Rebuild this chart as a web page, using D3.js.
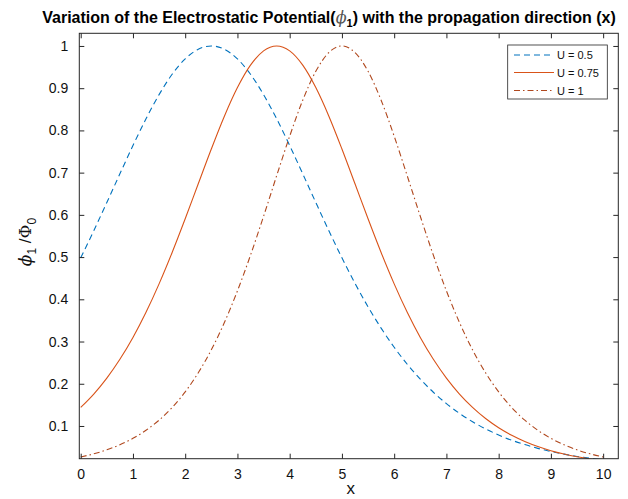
<!DOCTYPE html>
<html><head><meta charset="utf-8">
<script src="https://cdn.jsdelivr.net/npm/d3@7"></script>
<style>
body{margin:0;background:#fff;}
text{font-family:"Liberation Sans",Arial,Helvetica,sans-serif;}
</style></head>
<body><svg id="c" width="628" height="499"></svg>
<script>
const xValues = [0,0.25,0.5,0.75,1,1.25,1.5,1.75,2,2.25,2.5,2.75,3,3.25,3.5,3.75,4,4.25,4.5,4.75,5,5.25,5.5,5.75,6,6.25,6.5,6.75,7,7.25,7.5,7.75,8,8.25,8.5,8.75,9,9.25,9.5,9.75,10];
const seriesU05 = [0.4982,0.5624,0.6293,0.6972,0.7642,0.8276,0.8847,0.9329,0.9694,0.9922,1,0.9922,0.9694,0.9329,0.8847,0.8276,0.7642,0.6972,0.6293,0.5624,0.4982,0.4379,0.3823,0.3318,0.2864,0.2462,0.2108,0.1799,0.1530,0.1299,0.1101,0.0931,0.0786,0.0663,0.0559,0.0470,0.0396,0.0333,0.0279,0.0235,0.0197];
const seriesU075 = [0.1441,0.1757,0.2134,0.2579,0.3097,0.3693,0.4366,0.5109,0.5907,0.6736,0.7560,0.8337,0.9015,0.9546,0.9884,1,0.9884,0.9546,0.9015,0.8337,0.7560,0.6736,0.5907,0.5109,0.4366,0.3693,0.3097,0.2579,0.2134,0.1757,0.1441,0.1177,0.0959,0.0780,0.0633,0.0513,0.0415,0.0336,0.0271,0.0219,0.0177];
const seriesU1 = [0.0266,0.0340,0.0435,0.0555,0.0707,0.0898,0.1138,0.1437,0.1807,0.2259,0.2804,0.3450,0.4200,0.5045,0.5966,0.6924,0.7864,0.8716,0.9400,0.9845,1,0.9845,0.9400,0.8716,0.7864,0.6924,0.5966,0.5045,0.4200,0.3450,0.2804,0.2259,0.1807,0.1437,0.1138,0.0898,0.0707,0.0555,0.0435,0.0340,0.0266];
const seriesNames = ["U = 0.5","U = 0.75","U = 1"];
const xTicks = [0,1,2,3,4,5,6,7,8,9,10];
const yTicks = [0.1,0.2,0.3,0.4,0.5,0.6,0.7,0.8,0.9,1];

const svg = d3.select("#c");
const L=79.3, R=618.3, T=33.3, B=458.7;
const x = d3.scaleLinear().domain([-0.027,10.29]).range([L,R]);
const y = d3.scaleLinear().domain([0.0225,1.030]).range([B,T]);
const axisCol = "#262626";

svg.append("defs").append("clipPath").attr("id","clip")
  .append("rect").attr("x",L).attr("y",T).attr("width",R-L).attr("height",B-T);

const styles = [
  {data:seriesU05, color:"#0072BD", dash:"6,4"},
  {data:seriesU075, color:"#D95319", dash:null},
  {data:seriesU1, color:"#B0481E", dash:"6,3,1.5,3"}
];
const line = d3.line().x(d=>x(d[0])).y(d=>y(d[1])).curve(d3.curveMonotoneX);
const g = svg.append("g").attr("clip-path","url(#clip)");
styles.forEach(s=>{
  g.append("path").datum(xValues.map((v,i)=>[v,s.data[i]]))
   .attr("d",line).attr("fill","none").attr("stroke",s.color)
   .attr("stroke-width",1.1).attr("stroke-dasharray",s.dash);
});

// axes (box with inside ticks)
const tl = 5;
const axB = d3.axisBottom(x).tickValues(xTicks).tickSize(-tl).tickPadding(tl+5).tickFormat(d3.format("d"));
const axT = d3.axisTop(x).tickValues(xTicks).tickSize(-tl).tickFormat("");
const axL = d3.axisLeft(y).tickValues(yTicks).tickSize(-tl).tickPadding(tl+6).tickFormat(d=>d===1?"1":d3.format(".1f")(d));
const axR = d3.axisRight(y).tickValues(yTicks).tickSize(-tl).tickFormat("");
function style(sel){
  sel.select(".domain").remove();
  sel.selectAll("line").attr("stroke",axisCol).attr("stroke-width",1);
  sel.selectAll("text").attr("fill","#111").style("font-size","14px").style("font-family","'Liberation Sans',Arial,sans-serif");
}
svg.append("g").attr("transform",`translate(0,${B})`).call(axB).call(style);
svg.append("g").attr("transform",`translate(0,${T})`).call(axT).call(style);
svg.append("g").attr("transform",`translate(${L},0)`).call(axL).call(style);
svg.append("g").attr("transform",`translate(${R},0)`).call(axR).call(style);
svg.append("rect").attr("x",L).attr("y",T).attr("width",R-L).attr("height",B-T)
  .attr("fill","none").attr("stroke",axisCol).attr("stroke-width",1);

// title
const title = svg.append("text").attr("x",329).attr("y",23).attr("text-anchor","middle")
  .style("font-size","16px").style("font-weight","bold").attr("fill","#000");
title.append("tspan").text("Variation of the Electrostatic Potential(");
title.append("tspan").text("ϕ").style("font-style","italic").style("font-weight","normal").attr("fill","#555").style("font-family","'DejaVu Serif',serif");
title.append("tspan").text("1").attr("dy",4).style("font-size","11px");
title.append("tspan").text(") with the propagation direction (x)").attr("dy",-4);

// x label
svg.append("text").attr("x",(L+R)/2+2).attr("y",494).attr("text-anchor","middle")
  .style("font-size","17px").attr("fill","#111").text("x");

// y label
const yl = svg.append("text").attr("transform","translate(31,242) rotate(-90)").attr("text-anchor","middle")
  .style("font-size","17px").attr("fill","#111");
yl.append("tspan").text("ϕ").style("font-style","italic").style("font-family","'DejaVu Serif',serif");
yl.append("tspan").text("1").attr("dy",5).style("font-size","12px");
yl.append("tspan").text(" /").attr("dy",-5);
yl.append("tspan").text("Φ").style("font-family","'DejaVu Serif',serif");
yl.append("tspan").text("0").attr("dy",5).style("font-size","12px");

// legend
const lg = svg.append("g");
lg.append("rect").attr("x",507.7).attr("y",45).attr("width",99.6).attr("height",54)
  .attr("fill","#fff").attr("stroke",axisCol).attr("stroke-width",0.8);
const ly = [55,72.5,90.5];
styles.forEach((s,i)=>{
  lg.append("line").attr("x1",514).attr("x2",554).attr("y1",ly[i]).attr("y2",ly[i])
    .attr("stroke",s.color).attr("stroke-width",1.1).attr("stroke-dasharray",s.dash);
  lg.append("text").attr("x",557).attr("y",ly[i]+4).style("font-size","11px").attr("fill","#111").text(seriesNames[i]);
});
</script></body></html>
